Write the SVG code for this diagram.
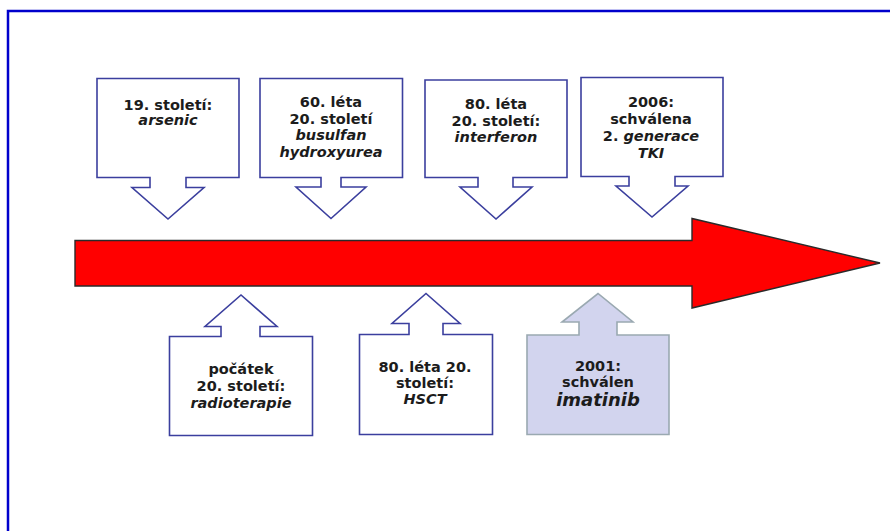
<svg xmlns="http://www.w3.org/2000/svg" width="890" height="531" viewBox="0 0 890 531">
<style>
.bx{fill:#ffffff;stroke:#3b3f9e;stroke-width:1.6;stroke-linejoin:miter}
.bxh{fill:#d2d4ee;stroke:#9aa9b1;stroke-width:1.6}
text{font-family:"DejaVu Sans",Verdana,sans-serif;font-weight:bold;font-size:14.5px;fill:#1c1c1c;text-anchor:middle}
.i{font-style:italic}
.big{font-size:18px}
</style>
<rect x="0" y="0" width="890" height="531" fill="#ffffff"/>
<path d="M8,531 V11 H890" fill="none" stroke="#0000cc" stroke-width="2.5"/>
<g id="timeline">
<path d="M75,240.5 H692 V218.5 L880,263 L692,308 V286 H75 Z" fill="#ff0000" stroke="#2a2a2a" stroke-width="1.4"/>
</g>
<g id="n1">
<path class="bx" d="M97,78.5 H239 V177.5 H186 V187.5 H204 L168,219 L132,187.5 H150 V177.5 H97 Z"/>
<text x="168" y="109.5">19. století:</text>
<text x="168" y="124.5" class="i">arsenic</text>
</g>
<g id="n2">
<path class="bx" d="M260,78.5 H402.5 V177.5 H341 V187 H366 L331,218.5 L296,187 H321 V177.5 H260 Z"/>
<text x="331" y="107">60. léta</text>
<text x="331" y="123.5">20. století</text>
<text x="331" y="140" class="i">busulfan</text>
<text x="331" y="156.5" class="i">hydroxyurea</text>
</g>
<g id="n3">
<path class="bx" d="M425,80 H567 V177.5 H513 V187 H532 L496,219 L460,187 H478 V177.5 H425 Z"/>
<text x="496" y="109">80. léta</text>
<text x="496" y="125.5">20. století:</text>
<text x="496" y="142" class="i">interferon</text>
</g>
<g id="n4">
<path class="bx" d="M581,77.5 H723 V176.5 H675 V186 H688 L652,217 L616,186 H629 V176.5 H581 Z"/>
<text x="651" y="107">2006:</text>
<text x="651" y="124">schválena</text>
<text x="651" y="141">2. <tspan class="i">generace</tspan></text>
<text x="651" y="157.5" class="i">TKI</text>
</g>
<g id="n5">
<path class="bx" d="M169.5,336.5 V435.5 H312.5 V336.5 H260 V326.5 H277 L241,295 L205,326.5 H221 V336.5 Z"/>
<text x="241" y="374">počátek</text>
<text x="241" y="391">20. století:</text>
<text x="241" y="407.5" class="i">radioterapie</text>
</g>
<g id="n6">
<path class="bx" d="M359.5,334.5 V434.5 H492.5 V334.5 H443 V323.5 H460 L426,293.5 L392,323.5 H409 V334.5 Z"/>
<text x="425" y="371.5">80. léta 20.</text>
<text x="425" y="387.5">století:</text>
<text x="425" y="403.5" class="i">HSCT</text>
</g>
<g id="n7">
<path class="bxh" d="M527,335 V434.5 H669 V335 H617 V322 H633 L598,293.5 L562,322 H579 V335 Z"/>
<text x="598" y="370.5">2001:</text>
<text x="598" y="386.5">schválen</text>
<text x="598" y="406" class="i big">imatinib</text>
</g>
</svg>
